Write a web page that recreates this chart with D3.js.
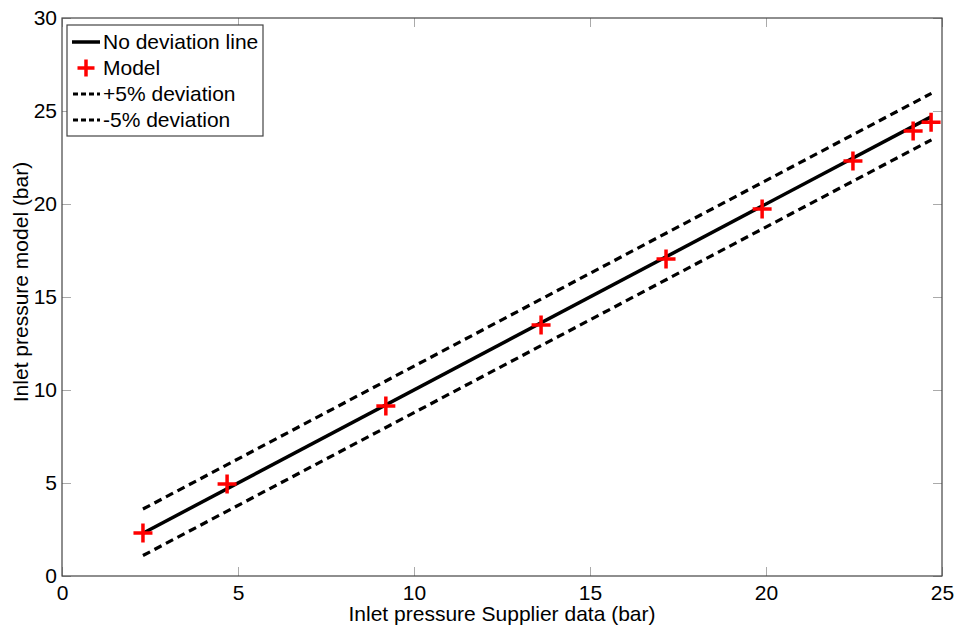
<!DOCTYPE html>
<html><head><meta charset="utf-8">
<script src="https://cdn.jsdelivr.net/npm/d3@7"></script>
<style>body{margin:0;background:#fff;} text{font-family:"Liberation Sans",Arial,sans-serif;}</style>
</head><body><svg id="c" width="958" height="628"></svg>
<script>
const modelX = [2.30, 4.69, 9.20, 13.61, 17.16, 19.89, 22.47, 24.18, 24.69];
const modelY = [2.31, 4.95, 9.14, 13.49, 17.04, 19.73, 22.31, 23.92, 24.39];
const lineX = [2.3, 24.7];
const noDevY = [2.3, 24.7];
const plusY = [3.6, 25.95];
const minusY = [1.1, 23.45];
const xTicks = [0, 5, 10, 15, 20, 25];
const yTicks = [0, 5, 10, 15, 20, 25, 30];
const legendLabels = ["No deviation line", "Model", "+5% deviation", "-5% deviation"];

const svg = d3.select("#c");
const L = 62, R = 942, T = 18, B = 576;
const FS = 21;
const x = d3.scaleLinear().domain([0, 25]).range([L, R]);
const y = d3.scaleLinear().domain([0, 30]).range([B, T]);

// axes
const tickLen = 9;
const styleTxt = g => g.selectAll("text").attr("font-size", FS).attr("fill", "#000").attr("font-family", "Liberation Sans, Arial");
svg.append("g").attr("transform", `translate(0,${B})`)
  .call(d3.axisBottom(x).tickValues(xTicks).tickSize(-tickLen).tickPadding(9))
  .call(g => { g.select(".domain").remove(); g.selectAll("line").attr("stroke", "#aaa"); styleTxt(g); });
svg.append("g").attr("transform", `translate(0,${T})`)
  .call(d3.axisTop(x).tickValues(xTicks).tickSize(-tickLen).tickFormat(""))
  .call(g => { g.select(".domain").remove(); g.selectAll("line").attr("stroke", "#aaa"); });
svg.append("g").attr("transform", `translate(${L},0)`)
  .call(d3.axisLeft(y).tickValues(yTicks).tickSize(-tickLen).tickPadding(5))
  .call(g => { g.select(".domain").remove(); g.selectAll("line").attr("stroke", "#aaa"); styleTxt(g); });
svg.append("g").attr("transform", `translate(${R},0)`)
  .call(d3.axisRight(y).tickValues(yTicks).tickSize(-tickLen).tickFormat(""))
  .call(g => { g.select(".domain").remove(); g.selectAll("line").attr("stroke", "#aaa"); });
svg.append("rect").attr("x", L).attr("y", T).attr("width", R - L).attr("height", B - T)
  .attr("fill", "none").attr("stroke", "#444").attr("stroke-width", 1.2);

// lines
const ln = d3.line().x(d => x(d[0])).y(d => y(d[1]));
svg.append("path").attr("d", ln(lineX.map((v, i) => [v, noDevY[i]])))
  .attr("stroke", "#000").attr("stroke-width", 3.5).attr("fill", "none");
[plusY, minusY].forEach(arr => {
  svg.append("path").attr("d", ln(lineX.map((v, i) => [v, arr[i]])))
    .attr("stroke", "#000").attr("stroke-width", 3.2).attr("stroke-dasharray", "8,5").attr("fill", "none");
});

// markers
const plus = (g, cx, cy, s) => {
  g.append("path").attr("d", `M${cx - s},${cy}H${cx + s}M${cx},${cy - s}V${cy + s}`)
    .attr("stroke", "#ff0000").attr("stroke-width", 3.5).attr("fill", "none");
};
const mg = svg.append("g");
modelX.forEach((v, i) => plus(mg, x(v), y(modelY[i]), 9.5));

// axis labels
svg.append("text").attr("x", 502).attr("y", 621).attr("text-anchor", "middle")
  .attr("font-size", FS).text("Inlet pressure Supplier data (bar)");
svg.append("text").attr("transform", `translate(28,282) rotate(-90)`).attr("text-anchor", "middle")
  .attr("font-size", FS).text("Inlet pressure model (bar)");

// legend
const lg = svg.append("g");
lg.append("rect").attr("x", 67).attr("y", 25).attr("width", 196).attr("height", 111)
  .attr("fill", "#fff").attr("stroke", "#444").attr("stroke-width", 1.2);
const ly = [42, 68, 94, 120];
legendLabels.forEach((t, i) => {
  const yy = ly[i];
  if (i === 0) lg.append("line").attr("x1", 72).attr("x2", 100).attr("y1", yy).attr("y2", yy).attr("stroke", "#000").attr("stroke-width", 3.5);
  else if (i === 1) plus(lg, 86, yy, 8.5);
  else lg.append("line").attr("x1", 73).attr("x2", 100).attr("y1", yy).attr("y2", yy).attr("stroke", "#000").attr("stroke-width", 3.2).attr("stroke-dasharray", "5,3");
  lg.append("text").attr("x", 103).attr("y", yy + 7).attr("font-size", FS).text(t);
});
</script></body></html>
